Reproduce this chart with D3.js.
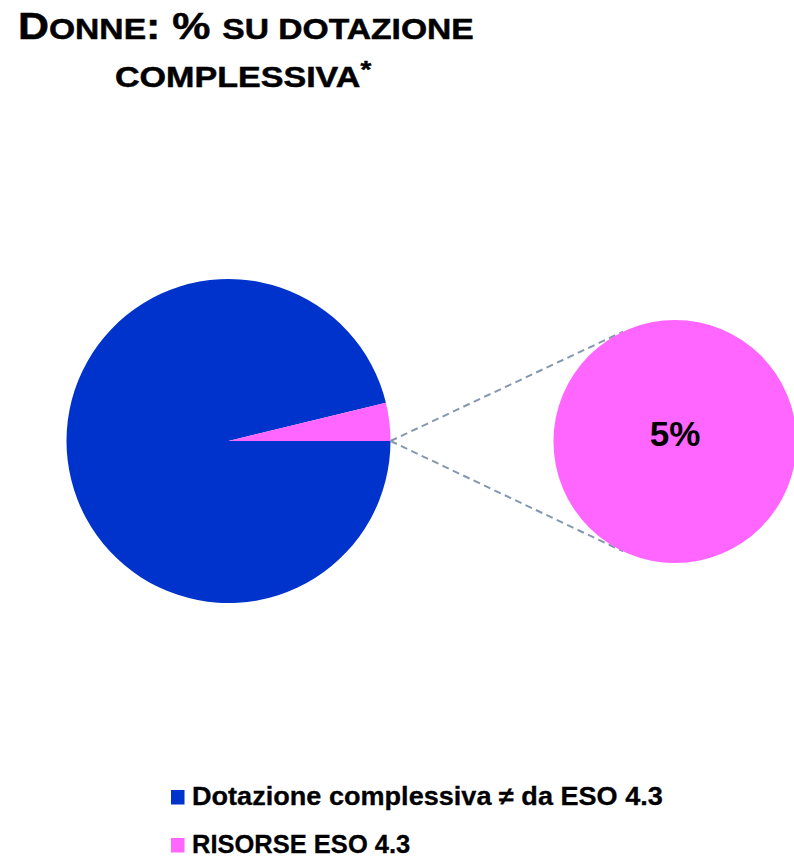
<!DOCTYPE html>
<html>
<head>
<meta charset="utf-8">
<script src="https://cdn.jsdelivr.net/npm/d3@7"></script>
<style>
	html, body { margin: 0; padding: 0; background: #fff; }
	svg text { font-family: "Liberation Sans", Arial, sans-serif; font-weight: bold; fill: #000; }
</style>
</head>
<body>
<svg id="chart" width="794" height="864"></svg>
<script>
// data
var categories = ['Dotazione complessiva \u2260 da ESO 4.3', 'RISORSE ESO 4.3'],
	shares = [96.2, 3.8],
	sliceLabels = ['', '5%'],
	colors = ['#0033cc', '#ff66ff'];

var svg = d3.select('#chart');

// fit a text node to a target ink width by stretching it horizontally
function fitWidth(sel, x0, width){
	var bb = sel.node().getBBox(),
		k = width / bb.width;
	sel.attr('transform', 'translate(' + x0 + ',0) scale(' + k + ',1) translate(' + (-bb.x) + ',0)');
}

// title, small caps done by hand
var t1 = svg.append('text').attr('y', 39).attr('stroke', '#000').attr('stroke-width', 0.5);
t1.append('tspan').attr('font-size', 37).text('D');
t1.append('tspan').attr('font-size', 29).text('ONNE');
t1.append('tspan').attr('font-size', 37).text(': % ');
t1.append('tspan').attr('font-size', 29).text('SU DOTAZIONE');
fitWidth(t1, 18, 456);

var t2 = svg.append('text').attr('y', 87).attr('stroke', '#000').attr('stroke-width', 0.5);
t2.append('tspan').attr('font-size', 29.5).text('COMPLESSIVA');
t2.append('tspan').attr('font-size', 24).attr('dy', -9).text('*');
fitWidth(t2, 115, 257);

// main pie
var main = { cx: 228.5, cy: 441, r: 162 },
	sub = { cx: 675, cy: 441.5, r: 121.5 };

var pie = d3.pie()
	.sort(null)
	.startAngle(Math.PI / 2)
	.endAngle(Math.PI / 2 + 2 * Math.PI);

var arcMain = d3.arc().innerRadius(0).outerRadius(main.r);

svg.append('g')
	.attr('transform', 'translate(' + main.cx + ',' + main.cy + ')')
	.selectAll('path')
	.data(pie(shares))
	.enter()
	.append('path')
	.attr('d', arcMain)
	.attr('fill', function(d, i){ return colors[i]; });

// connector lines: from the slice tip to the tangents of the second pie
var px = main.cx + main.r, py = main.cy,
	dist = sub.cx - px,
	alpha = Math.acos(sub.r / dist);

[-1, 1].forEach(function(s){
	svg.append('line')
		.attr('x1', px)
		.attr('y1', py)
		.attr('x2', sub.cx - sub.r * Math.cos(alpha))
		.attr('y2', sub.cy + s * sub.r * Math.sin(alpha))
		.attr('stroke', '#8597b0')
		.attr('stroke-width', 2)
		.attr('stroke-dasharray', '7,4.5');
});

// second pie: only the ESO 4.3 share, exploded
var arcSub = d3.arc().innerRadius(0).outerRadius(sub.r);
var subG = svg.append('g')
	.attr('transform', 'translate(' + sub.cx + ',' + sub.cy + ')');

subG.selectAll('path')
	.data(d3.pie().sort(null)([shares[1]]))
	.enter()
	.append('path')
	.attr('d', arcSub)
	.attr('fill', colors[1]);

subG.append('text')
	.attr('text-anchor', 'middle')
	.attr('y', 4.5)
	.attr('font-size', 35)
	.text(sliceLabels[1]);

// legend
var legend = svg.append('g');
var rows = legend.selectAll('g')
	.data(categories)
	.enter()
	.append('g')
	.attr('transform', function(d, i){ return 'translate(0,' + (i * 48) + ')'; });

rows.append('rect')
	.attr('x', 171)
	.attr('y', 790)
	.attr('width', 13.5)
	.attr('height', 14.5)
	.attr('fill', function(d, i){ return colors[i]; });

rows.append('text')
	.attr('x', 192)
	.attr('y', 805)
	.attr('font-size', 25.5)
	.attr('stroke', '#000')
	.attr('stroke-width', 0.3)
	.text(function(d){ return d; });

rows.selectAll('text').each(function(d){
	if (d === categories[0]) fitWidth(d3.select(this).attr('x', 0), 192, 471);
});
</script>
</body>
</html>
